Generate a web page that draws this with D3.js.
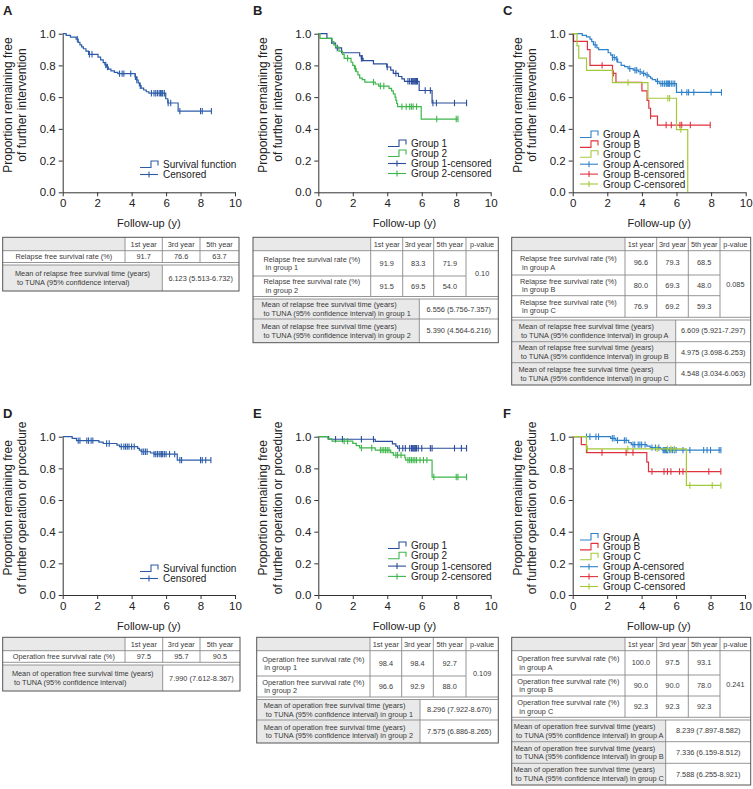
<!DOCTYPE html>
<html><head><meta charset="utf-8">
<script src="https://cdn.jsdelivr.net/npm/d3@7"></script>
<style>body{margin:0;background:#fff} svg text{font-family:"Liberation Sans",Arial,sans-serif}</style>
</head><body><svg id="c" width="753" height="789"></svg>
<script>
// ---------- DATA ----------
const xTickValues = [0, 2, 4, 6, 8, 10];
const xTickLabels = ["0", "2", "4", "6", "8", "10"];
const yTickValues = [0, 0.2, 0.4, 0.6, 0.8, 1.0];
const yTickLabels = ["0.0", "0.2", "0.4", "0.6", "0.8", "1.0"];
const panelLetters = ["A", "B", "C", "D", "E", "F"];
const xTitle = "Follow-up (y)";
const yTitleTop = ["Proportion remaining free", "of further intervention"];
const yTitleBottom = ["Proportion remaining free", "of further operation or procedure"];
const legendSingle = ["Survival function", "Censored"];
const legendTwo = ["Group 1", "Group 2", "Group 1-censored", "Group 2-censored"];
const legendThree = ["Group A", "Group B", "Group C", "Group A-censored", "Group B-censored", "Group C-censored"];

// Panel A: overall relapse free
const aTimes = [0.2, 0.45, 0.78, 0.9, 1.0, 1.1, 1.2, 1.35, 1.5, 2.05, 2.2, 2.35, 2.45, 2.55, 2.65, 2.8, 3.0, 3.2, 4.2, 4.3, 4.38, 4.45, 4.55, 4.7, 4.85, 5.0, 5.98, 6.1, 6.7];
const aSurv  = [0.99, 0.979, 0.966, 0.945, 0.93, 0.917, 0.905, 0.89, 0.87, 0.852, 0.835, 0.818, 0.803, 0.79, 0.777, 0.766, 0.756, 0.748, 0.728, 0.708, 0.69, 0.672, 0.657, 0.645, 0.634, 0.625, 0.59, 0.563, 0.512];
const aCens  = [0.85, 1.55, 1.7, 2.5, 2.6, 3.3, 3.45, 3.55, 3.95, 4.22, 4.3, 4.5, 5.15, 5.3, 5.4, 5.5, 5.6, 5.68, 5.75, 5.8, 5.9, 6.12, 6.27, 6.8, 8.0, 8.1, 8.63];

// Panel B: group 1 / group 2 relapse free
const b1Times = [0.5, 0.77, 1.0, 1.35, 2.4, 2.5, 2.6, 3.2, 3.97, 4.2, 4.35, 4.65, 4.85, 5.0, 5.85, 6.6];
const b1Surv  = [0.97, 0.94, 0.91, 0.88, 0.86, 0.845, 0.83, 0.81, 0.79, 0.77, 0.75, 0.73, 0.715, 0.70, 0.642, 0.563];
const b1Cens  = [1.1, 2.5, 2.55, 4.0, 4.5, 5.2, 5.3, 5.4, 5.45, 5.5, 5.55, 5.6, 5.65, 5.7, 5.75, 6.2, 6.5, 6.65, 6.85, 7.9, 8.6];
const b2Times = [0.1, 0.8, 0.9, 1.0, 1.2, 1.4, 1.5, 1.9, 2.0, 2.1, 2.2, 2.3, 2.4, 2.55, 2.7, 3.3, 3.5, 4.1, 4.25, 4.35, 4.45, 4.5, 4.55, 4.6, 5.97];
const b2Surv  = [0.97, 0.95, 0.93, 0.915, 0.89, 0.87, 0.845, 0.82, 0.80, 0.78, 0.76, 0.74, 0.72, 0.71, 0.695, 0.683, 0.67, 0.655, 0.64, 0.62, 0.60, 0.58, 0.56, 0.54, 0.462];
const b2Cens  = [1.7, 2.15, 3.2, 3.6, 3.8, 4.85, 5.1, 5.3, 5.4, 5.5, 5.7, 6.87, 8.0, 8.1];

// Panel C: groups A / B / C relapse free
const cATimes = [0.55, 0.8, 1.0, 1.1, 1.2, 1.4, 1.5, 2.05, 2.2, 2.3, 2.5, 2.6, 2.8, 3.0, 3.2, 3.5, 3.8, 4.0, 4.2, 4.4, 4.5, 4.6, 4.8, 5.0, 6.0];
const cASurv  = [0.99, 0.98, 0.966, 0.95, 0.93, 0.91, 0.90, 0.88, 0.865, 0.85, 0.84, 0.82, 0.80, 0.793, 0.78, 0.77, 0.76, 0.75, 0.74, 0.73, 0.72, 0.71, 0.70, 0.685, 0.63];
const cACens  = [1.3, 2.3, 2.4, 2.55, 3.3, 3.6, 3.7, 3.9, 4.1, 4.3, 4.9, 5.1, 5.2, 5.3, 5.4, 5.45, 5.5, 5.55, 5.6, 5.7, 5.8, 5.9, 6.3, 6.6, 6.7, 7.0, 8.0, 8.6];
const cBTimes = [0.05, 0.85, 1.0, 2.3, 2.5, 4.0, 4.3, 4.4, 4.5, 4.9];
const cBSurv  = [0.952, 0.90, 0.80, 0.75, 0.693, 0.64, 0.58, 0.53, 0.48, 0.424];
const cBCens  = [1.7, 2.35, 4.5, 5.4, 5.7, 6.2, 6.3, 6.8, 7.95];
const cCTimes = [0.25, 0.35, 0.8, 2.3, 4.35, 6.0, 6.65];
const cCSurv  = [0.923, 0.846, 0.769, 0.692, 0.593, 0.395, 0];
const cCCens  = [3.2, 5.5, 5.6, 6.25];

// Panel D: overall operation free
const dTimes = [0.55, 0.8, 2.1, 2.35, 3.15, 3.3, 4.35, 4.45, 4.55, 5.1, 5.3, 6.65];
const dSurv  = [0.99, 0.975, 0.966, 0.957, 0.947, 0.937, 0.926, 0.915, 0.905, 0.897, 0.89, 0.852];
const dCens  = [0.9, 1.0, 1.4, 1.5, 1.65, 1.75, 2.55, 2.7, 3.4, 3.55, 3.65, 3.75, 3.85, 4.0, 4.15, 4.6, 4.7, 4.8, 4.9, 5.3, 5.4, 5.5, 5.6, 5.7, 5.75, 5.8, 5.9, 6.0, 6.2, 6.5, 6.8, 6.9, 8.0, 8.1, 8.3, 8.6];

// Panel E: group 1 / group 2 operation free
const e1Times = [0.6, 3.3, 4.3, 4.5, 4.6];
const e1Surv  = [0.984, 0.97, 0.955, 0.94, 0.927];
const e1Cens  = [1.0, 1.4, 2.5, 3.2, 4.7, 4.9, 5.05, 5.3, 5.4, 5.45, 5.5, 5.55, 5.6, 5.65, 5.7, 5.8, 6.0, 6.5, 6.6, 7.9, 8.3, 8.6];
const e2Times = [0.55, 0.8, 2.0, 2.2, 2.4, 3.3, 4.2, 4.35, 5.02, 5.07, 6.6];
const e2Surv  = [0.986, 0.972, 0.958, 0.944, 0.929, 0.915, 0.90, 0.884, 0.867, 0.852, 0.745];
const e2Cens  = [1.5, 1.7, 2.5, 3.1, 3.6, 3.7, 3.8, 3.9, 4.0, 4.1, 4.5, 4.6, 4.8, 5.2, 5.3, 5.4, 5.5, 5.6, 5.7, 5.9, 6.1, 6.3, 6.7, 8.0, 8.1, 8.6];

// Panel F: groups A / B / C operation free
const fATimes = [2.2, 2.5, 3.25, 3.4, 4.3, 4.5, 5.1, 5.2];
const fASurv  = [0.99, 0.977, 0.963, 0.95, 0.94, 0.931, 0.923, 0.915];
const fACens  = [0.8, 1.0, 1.35, 1.5, 2.3, 2.4, 2.6, 3.0, 3.1, 3.5, 3.6, 3.8, 3.9, 4.0, 4.2, 4.6, 4.8, 5.0, 5.25, 5.3, 5.35, 5.4, 5.45, 5.5, 5.6, 5.7, 5.8, 5.9, 6.0, 6.4, 6.8, 7.6, 7.8, 8.0, 8.5, 8.6];
const fBTimes = [0.5, 0.8, 4.3, 4.4];
const fBSurv  = [0.95, 0.90, 0.84, 0.78];
const fBCens  = [1.7, 3.1, 3.5, 4.6, 5.3, 5.5, 5.7, 6.2, 6.4, 6.6, 7.9, 8.6];
const fCTimes = [0.8, 6.6];
const fCSurv  = [0.923, 0.692];
const fCCens  = [0.85, 3.2, 4.9, 5.5, 5.7, 5.9, 6.8, 8.1, 8.6];

// Tables
const yearHeaders = ["1st year", "3rd year", "5th year"];
const pHeader = "p-value";
const tblARates = [["Relapse free survival rate (%)"], ["91.7", "76.6", "63.7"]];
const tblAMean = [["Mean of relapse free survival time (years)", " to TUNA (95% confidence interval)"], "6.123 (5.513-6.732)"];
const tblBRateLabels = [["Relapse free survival rate (%)", " in group 1"], ["Relapse free survival rate (%)", " in group 2"]];
const tblBRateValues = [["91.9", "83.3", "71.9"], ["91.5", "69.5", "54.0"]];
const tblBP = "0.10";
const tblBMeanLabels = [["Mean of relapse free survival time (years)", " to TUNA (95% confidence interval) in group 1"], ["Mean of relapse free survival time (years)", " to TUNA (95% confidence interval) in group 2"]];
const tblBMeanValues = ["6.556 (5.756-7.357)", "5.390 (4.564-6.216)"];
const tblCRateLabels = [["Relapse free survival rate (%)", " in group A"], ["Relapse free survival rate (%)", " in group B"], ["Relapse free survival rate (%)", " in group C"]];
const tblCRateValues = [["96.6", "79.3", "68.5"], ["80.0", "69.3", "48.0"], ["76.9", "69.2", "59.3"]];
const tblCP = "0.085";
const tblCMeanLabels = [["Mean of relapse free survival time (years)", " to TUNA (95% confidence interval) in group A"], ["Mean of relapse free survival time (years)", " to TUNA (95% confidence interval) in group B"], ["Mean of relapse free survival time (years)", " to TUNA (95% confidence interval) in group C"]];
const tblCMeanValues = ["6.609 (5.921-7.297)", "4.975 (3.698-6.253)", "4.548 (3.034-6.063)"];
const tblDRates = [["Operation free survival rate (%)"], ["97.5", "95.7", "90.5"]];
const tblDMean = [["Mean of operation free survival time (years)", " to TUNA (95% confidence interval)"], "7.990 (7.612-8.367)"];
const tblERateLabels = [["Operation free survival rate (%)", " in group 1"], ["Operation free survival rate (%)", " in group 2"]];
const tblERateValues = [["98.4", "98.4", "92.7"], ["96.6", "92.9", "88.0"]];
const tblEP = "0.109";
const tblEMeanLabels = [["Mean of operation free survival time (years)", " to TUNA (95% confidence interval) in group 1"], ["Mean of operation free survival time (years)", " to TUNA (95% confidence interval) in group 2"]];
const tblEMeanValues = ["8.296 (7.922-8.670)", "7.575 (6.886-8.265)"];
const tblFRateLabels = [["Operation free survival rate (%)", " in group A"], ["Operation free survival rate (%)", " in group B"], ["Operation free survival rate (%)", " in group C"]];
const tblFRateValues = [["100.0", "97.5", "93.1"], ["90.0", "90.0", "78.0"], ["92.3", "92.3", "92.3"]];
const tblFP = "0.241";
const tblFMeanLabels = [["Mean of operation free survival time (years)", " to TUNA (95% confidence interval) in group A"], ["Mean of operation free survival time (years)", " to TUNA (95% confidence interval) in group B"], ["Mean of operation free survival time (years)", " to TUNA (95% confidence interval) in group C"]];
const tblFMeanValues = ["8.239 (7.897-8.582)", "7.336 (6.159-8.512)", "7.588 (6.255-8.921)"];

// ---------- STYLE ----------
const COL_ONE = "#2c5ca8";
const COL_G1 = "#2a4c9a", COL_G2 = "#3db54a";
const COL_A = "#2e80c9", COL_B = "#e0323e", COL_C = "#a3c93a";
const AX = "#333";

const svg = d3.select("#c");

function survAt(times, surv, t) {
  let s = 1;
  for (let i = 0; i < times.length; i++) { if (times[i] <= t) s = surv[i]; else break; }
  return s;
}

function drawPanel(p) {
  const g = svg.append("g");
  const x = d3.scaleLinear().domain([0, 10]).range([p.x0, p.x1]);
  const y = d3.scaleLinear().domain([0, 1]).range([p.y0, p.y1]);
  g.append("text").attr("x", p.lx).attr("y", p.ly).attr("font-size", 13).attr("font-weight", "bold").attr("fill", "#222").text(p.letter);
  p.series.forEach(s => {
    const end = Math.max(s.t[s.t.length - 1], d3.max(s.c) || 0);
    const pts = [[0, 1]].concat(s.t.map((t, i) => [t, s.s[i]]));
    pts.push([end, s.s[s.s.length - 1]]);
    const line = d3.line().x(d => x(d[0])).y(d => y(d[1])).curve(d3.curveStepAfter);
    g.append("path").attr("d", line(pts)).attr("fill", "none").attr("stroke", s.color).attr("stroke-width", 1.2);
    g.selectAll(null).data(s.c).enter().append("line")
      .attr("x1", d => x(d)).attr("x2", d => x(d))
      .attr("y1", d => y(survAt(s.t, s.s, d)) - 3.2).attr("y2", d => y(survAt(s.t, s.s, d)) + 3.2)
      .attr("stroke", s.color).attr("stroke-width", 1.1);
  });
  const ya = d3.axisLeft(y).tickValues(yTickValues).tickFormat((d, i) => yTickLabels[i]).tickSize(4).tickSizeOuter(0).tickPadding(3);
  const xa = d3.axisBottom(x).tickValues(xTickValues).tickFormat((d, i) => xTickLabels[i]).tickSize(4).tickSizeOuter(0).tickPadding(3);
  const gy = g.append("g").attr("transform", `translate(${p.x0},0)`).call(ya);
  const gx = g.append("g").attr("transform", `translate(0,${p.y0})`).call(xa);
  [gx, gy].forEach(a => {
    a.selectAll("path,line").attr("stroke", AX);
    a.selectAll("text").attr("font-size", 11.5).attr("fill", "#222").attr("font-family", "Liberation Sans, Arial, sans-serif");
  });
  g.append("text").attr("x", (p.x0 + p.x1) / 2).attr("y", p.y0 + 35).attr("text-anchor", "middle")
    .attr("font-size", 11).attr("fill", "#222").text(xTitle);
  const cy = (p.y0 + p.y1) / 2 - 8;
  p.ytitle.forEach((t, i) => {
    const bx = p.x0 - 51 + i * 14.5;
    g.append("text").attr("transform", `translate(${bx},${cy}) rotate(-90)`).attr("text-anchor", "middle")
      .attr("font-size", 12).attr("fill", "#222").text(t);
  });
  const lg = g.append("g");
  p.legend.forEach((lab, i) => {
    const ly = p.legY + i * p.legStep;
    const lx = p.legX;
    const item = p.legItems[i];
    if (item.type === "step") {
      lg.append("path").attr("d", `M${lx},${ly + 3}H${lx + 11}V${ly - 3.5}H${lx + 18}V${ly + 1}`)
        .attr("fill", "none").attr("stroke", item.color).attr("stroke-width", 1.1);
    } else {
      lg.append("line").attr("x1", lx).attr("x2", lx + 18).attr("y1", ly).attr("y2", ly).attr("stroke", item.color).attr("stroke-width", 1.1);
      lg.append("line").attr("x1", lx + 9).attr("x2", lx + 9).attr("y1", ly - 3).attr("y2", ly + 3).attr("stroke", item.color).attr("stroke-width", 1.1);
    }
    lg.append("text").attr("x", lx + 23).attr("y", ly + 3.5).attr("font-size", 10).attr("fill", "#222").text(lab);
  });
}

const ROW1 = { y0: 192.3, y1: 33.7 };
const ROW2 = { y0: 595, y1: 436.7 };

drawPanel({ letter: panelLetters[0], lx: 3, ly: 15, x0: 62.7, x1: 235, ...ROW1, ytitle: yTitleTop,
  series: [{ t: aTimes, s: aSurv, c: aCens, color: COL_ONE }],
  legend: legendSingle, legItems: [{ type: "step", color: COL_ONE }, { type: "cens", color: COL_ONE }],
  legX: 140, legY: 164.5, legStep: 10 });
drawPanel({ letter: panelLetters[1], lx: 253, ly: 15, x0: 318.3, x1: 490.7, ...ROW1, ytitle: yTitleTop,
  series: [{ t: b1Times, s: b1Surv, c: b1Cens, color: COL_G1 }, { t: b2Times, s: b2Surv, c: b2Cens, color: COL_G2 }],
  legend: legendTwo, legItems: [{ type: "step", color: COL_G1 }, { type: "step", color: COL_G2 }, { type: "cens", color: COL_G1 }, { type: "cens", color: COL_G2 }],
  legX: 388, legY: 143.5, legStep: 10 });
drawPanel({ letter: panelLetters[2], lx: 503, ly: 15, x0: 572.7, x1: 745.7, ...ROW1, ytitle: yTitleTop,
  series: [{ t: cATimes, s: cASurv, c: cACens, color: COL_A }, { t: cBTimes, s: cBSurv, c: cBCens, color: COL_B }, { t: cCTimes, s: cCSurv, c: cCCens, color: COL_C }],
  legend: legendThree, legItems: [{ type: "step", color: COL_A }, { type: "step", color: COL_B }, { type: "step", color: COL_C }, { type: "cens", color: COL_A }, { type: "cens", color: COL_B }, { type: "cens", color: COL_C }],
  legX: 580, legY: 134.5, legStep: 9.9 });
drawPanel({ letter: panelLetters[3], lx: 3, ly: 418, x0: 62.7, x1: 235, ...ROW2, ytitle: yTitleBottom,
  series: [{ t: dTimes, s: dSurv, c: dCens, color: COL_ONE }],
  legend: legendSingle, legItems: [{ type: "step", color: COL_ONE }, { type: "cens", color: COL_ONE }],
  legX: 140, legY: 568.5, legStep: 10 });
drawPanel({ letter: panelLetters[4], lx: 253, ly: 418, x0: 318.3, x1: 490.7, ...ROW2, ytitle: yTitleBottom,
  series: [{ t: e1Times, s: e1Surv, c: e1Cens, color: COL_G1 }, { t: e2Times, s: e2Surv, c: e2Cens, color: COL_G2 }],
  legend: legendTwo, legItems: [{ type: "step", color: COL_G1 }, { type: "step", color: COL_G2 }, { type: "cens", color: COL_G1 }, { type: "cens", color: COL_G2 }],
  legX: 388, legY: 545.5, legStep: 10.3 });
drawPanel({ letter: panelLetters[5], lx: 503, ly: 418, x0: 572.7, x1: 745, ...ROW2, ytitle: yTitleBottom,
  series: [{ t: fATimes, s: fASurv, c: fACens, color: COL_A }, { t: fBTimes, s: fBSurv, c: fBCens, color: COL_B }, { t: fCTimes, s: fCSurv, c: fCCens, color: COL_C }],
  legend: legendThree, legItems: [{ type: "step", color: COL_A }, { type: "step", color: COL_B }, { type: "step", color: COL_C }, { type: "cens", color: COL_A }, { type: "cens", color: COL_B }, { type: "cens", color: COL_C }],
  legX: 580, legY: 537, legStep: 9.9 });

// ---------- TABLES ----------
const TFS = 7.35, TLH = 8.7, GREY = "#e9e9e9", LINE = "#8a8a8a", OUT = "#555", TXT = "#3a3a3a";

function multiText(g, lines, cx, cy, anchorCenterBlock) {
  const t = g.append("text").attr("font-size", TFS).attr("fill", TXT).attr("xml:space", "preserve").style("white-space", "pre");
  const n = lines.length;
  const spans = lines.map((l, i) => t.append("tspan").attr("y", cy + (i - (n - 1) / 2) * TLH + TFS * 0.35).text(l));
  if (anchorCenterBlock) {
    const w = d3.max(spans.map(s => s.node().getComputedTextLength()));
    spans.forEach(s => s.attr("x", cx - w / 2));
  } else {
    t.attr("text-anchor", "middle");
    spans.forEach(s => s.attr("x", cx));
  }
}

function drawTable(t) {
  const g = svg.append("g");
  const c = t.cols, L = c[0], R = c[c.length - 1];
  const rr = t.rateRows, mr = t.meanRows;
  const rateBot = rr[rr.length - 1], meanTop = mr[0];
  g.append("rect").attr("x", L).attr("y", rr[0]).attr("width", c[1] - L).attr("height", rr[1] - rr[0]).attr("fill", GREY);
  for (let i = 0; i < mr.length - 1; i++)
    g.append("rect").attr("x", L).attr("y", mr[i]).attr("width", t.split - L).attr("height", mr[i + 1] - mr[i]).attr("fill", GREY);
  const ln = (x1, y1, x2, y2, col) => g.append("line").attr("x1", x1).attr("y1", y1).attr("x2", x2).attr("y2", y2).attr("stroke", col || LINE).attr("stroke-width", 0.9);
  const hasP = !!t.p;
  const pLeft = hasP ? c[c.length - 2] : R;
  ln(L, rr[1], R, rr[1]);
  for (let i = 2; i < rr.length - 1; i++) ln(L, rr[i], pLeft, rr[i]);
  for (let j = 1; j < c.length - 1; j++) ln(c[j], rr[0], c[j], rateBot);
  ln(L, rateBot, R, rateBot);
  ln(L, meanTop, R, meanTop);
  for (let i = 1; i < mr.length - 1; i++) ln(L, mr[i], R, mr[i]);
  ln(t.split, meanTop, t.split, mr[mr.length - 1]);
  g.append("rect").attr("x", L).attr("y", rr[0]).attr("width", R - L).attr("height", mr[mr.length - 1] - rr[0])
    .attr("fill", "none").attr("stroke", OUT).attr("stroke-width", 1);
  const hdr = hasP ? yearHeaders.concat([pHeader]) : yearHeaders;
  hdr.forEach((h, j) => multiText(g, [h], (c[j + 1] + c[j + 2]) / 2, (rr[0] + rr[1]) / 2, false));
  t.rateLabels.forEach((lab, i) => {
    const cy = (rr[i + 1] + rr[i + 2]) / 2;
    multiText(g, lab, (c[0] + c[1]) / 2, cy, true);
    t.rateValues[i].forEach((v, j) => multiText(g, [v], (c[j + 1] + c[j + 2]) / 2, cy, false));
  });
  if (hasP) multiText(g, [t.p], (pLeft + R) / 2, (rr[1] + rateBot) / 2, false);
  t.meanLabels.forEach((lab, i) => {
    const cy = (mr[i] + mr[i + 1]) / 2;
    multiText(g, lab, (L + t.split) / 2, cy, true);
    multiText(g, [t.meanValues[i]], (t.split + R) / 2, cy, false);
  });
}

drawTable({ cols: [2.7, 125, 162.3, 200, 239], rateRows: [237.3, 250.7, 262.5], meanRows: [265, 291], split: 162.3,
  rateLabels: [tblARates[0]], rateValues: [tblARates[1]], meanLabels: [tblAMean[0]], meanValues: [tblAMean[1]] });
drawTable({ cols: [253, 370.7, 402.7, 433.7, 466, 498.3], rateRows: [237.3, 250.7, 276, 296.5], meanRows: [299, 319, 342.7], split: 419.3,
  rateLabels: tblBRateLabels, rateValues: tblBRateValues, p: tblBP, meanLabels: tblBMeanLabels, meanValues: tblBMeanValues });
drawTable({ cols: [511.7, 625, 656.7, 688.3, 720, 750.7], rateRows: [237.3, 250.7, 275, 295.7, 317.3], meanRows: [320, 341.7, 362.7, 385], split: 675.7,
  rateLabels: tblCRateLabels, rateValues: tblCRateValues, p: tblCP, meanLabels: tblCMeanLabels, meanValues: tblCMeanValues });
drawTable({ cols: [2.7, 125, 162.7, 200, 240], rateRows: [637.3, 650.7, 662.3], meanRows: [665, 691], split: 162.7,
  rateLabels: [tblDRates[0]], rateValues: [tblDRates[1]], meanLabels: [tblDMean[0]], meanValues: [tblDMean[1]] });
drawTable({ cols: [256.7, 370, 401.7, 433.3, 466, 498.3], rateRows: [637.3, 650.7, 676, 697], meanRows: [699.5, 720, 743], split: 420,
  rateLabels: tblERateLabels, rateValues: tblERateValues, p: tblEP, meanLabels: tblEMeanLabels, meanValues: tblEMeanValues });
drawTable({ cols: [511.7, 625, 656.7, 688.3, 720, 750.7], rateRows: [637.3, 650.7, 675, 696, 717.3], meanRows: [720, 741.7, 763.3, 785], split: 665.7,
  rateLabels: tblFRateLabels, rateValues: tblFRateValues, p: tblFP, meanLabels: tblFMeanLabels, meanValues: tblFMeanValues });
</script>
</body></html>
